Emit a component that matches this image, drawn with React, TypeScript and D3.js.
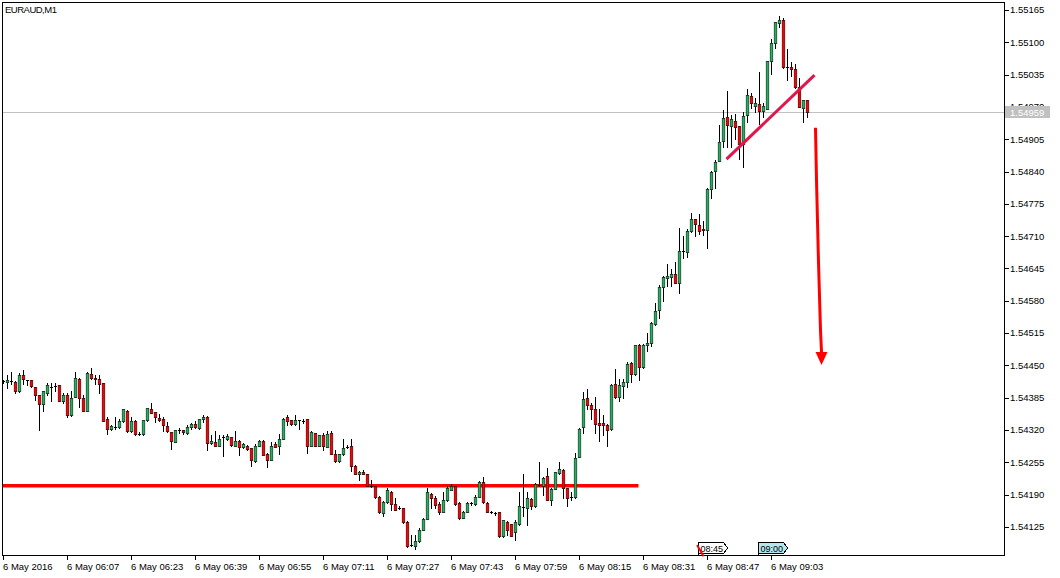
import React from "react";
import * as d3 from "d3";

const symbolTitle = "EURAUD,M1";

const opens = [
  1.54418,1.54416,1.54418,1.54416,1.54399,1.54430,1.54420,1.54420,1.54406,1.54390,
  1.54372,1.54395,1.54407,1.54408,1.54410,1.54378,1.54391,1.54351,1.54386,1.54423,
  1.54384,1.54359,1.54432,1.54424,1.54423,1.54414,1.54343,1.54322,1.54327,1.54326,
  1.54338,1.54359,1.54319,1.54339,1.54312,1.54312,1.54340,1.54363,1.54356,1.54344,
  1.54342,1.54328,1.54316,1.54296,1.54320,1.54320,1.54314,1.54326,1.54332,1.54324,
  1.54342,1.54347,1.54294,1.54296,1.54288,1.54306,1.54302,1.54306,1.54288,1.54299,
  1.54286,1.54288,1.54283,1.54258,1.54288,1.54299,1.54272,1.54260,1.54291,1.54288,
  1.54303,1.54346,1.54340,1.54332,1.54340,1.54339,1.54342,1.54288,1.54314,1.54288,
  1.54310,1.54286,1.54314,1.54272,1.54258,1.54271,1.54286,1.54287,1.54248,1.54232,
  1.54236,1.54231,1.54208,1.54207,1.54186,1.54154,1.54175,1.54196,1.54172,1.54163,
  1.54163,1.54136,1.54088,1.54086,1.54096,1.54119,1.54142,1.54192,1.54184,1.54171,
  1.54156,1.54179,1.54200,1.54207,1.54174,1.54144,1.54156,1.54174,1.54171,1.54186,
  1.54216,1.54174,1.54155,1.54154,1.54155,1.54106,1.54136,1.54131,1.54114,1.54131,
  1.54166,1.54163,1.54182,1.54167,1.54210,1.54208,1.54227,1.54179,1.54202,1.54234,
  1.54240,1.54203,1.54186,1.54186,1.54266,1.54326,1.54384,1.54370,1.54363,1.54335,
  1.54334,1.54331,1.54322,1.54412,1.54386,1.54408,1.54416,1.54455,1.54432,1.54492,
  1.54446,1.54492,1.54496,1.54534,1.54562,1.54608,1.54626,1.54628,1.54634,1.54616,
  1.54680,1.54678,1.54720,1.54744,1.54732,1.54724,1.54723,1.54804,1.54842,1.54862,
  1.54902,1.54950,1.54931,1.54942,1.54931,1.54895,1.54954,1.54992,1.54971,1.54976,
  1.54962,1.54966,1.55062,1.55098,1.55138,1.55144,1.55050,1.55050,1.55047,1.55010,
  1.54968,1.54983,
];

const highs = [
  1.54421,1.54430,1.54436,1.54419,1.54434,1.54440,1.54421,1.54421,1.54407,1.54391,
  1.54399,1.54415,1.54415,1.54414,1.54411,1.54395,1.54395,1.54399,1.54436,1.54424,
  1.54390,1.54436,1.54444,1.54431,1.54431,1.54415,1.54346,1.54330,1.54346,1.54342,
  1.54363,1.54361,1.54347,1.54340,1.54316,1.54341,1.54365,1.54374,1.54357,1.54352,
  1.54346,1.54336,1.54317,1.54321,1.54324,1.54321,1.54331,1.54334,1.54338,1.54343,
  1.54350,1.54348,1.54311,1.54318,1.54310,1.54310,1.54312,1.54307,1.54319,1.54300,
  1.54294,1.54290,1.54284,1.54291,1.54300,1.54300,1.54273,1.54296,1.54296,1.54312,
  1.54344,1.54350,1.54341,1.54351,1.54341,1.54343,1.54343,1.54319,1.54315,1.54311,
  1.54314,1.54319,1.54318,1.54280,1.54272,1.54303,1.54290,1.54302,1.54249,1.54238,
  1.54240,1.54232,1.54220,1.54208,1.54187,1.54177,1.54203,1.54197,1.54183,1.54167,
  1.54164,1.54137,1.54108,1.54108,1.54123,1.54143,1.54204,1.54193,1.54187,1.54175,
  1.54195,1.54208,1.54211,1.54208,1.54175,1.54157,1.54176,1.54176,1.54190,1.54217,
  1.54226,1.54175,1.54158,1.54156,1.54156,1.54140,1.54138,1.54132,1.54139,1.54195,
  1.54231,1.54195,1.54183,1.54213,1.54255,1.54226,1.54244,1.54203,1.54236,1.54255,
  1.54241,1.54204,1.54196,1.54274,1.54324,1.54396,1.54403,1.54374,1.54387,1.54362,
  1.54351,1.54332,1.54412,1.54443,1.54423,1.54423,1.54456,1.54456,1.54492,1.54493,
  1.54493,1.54516,1.54538,1.54576,1.54612,1.54630,1.54655,1.54643,1.54658,1.54727,
  1.54711,1.54724,1.54756,1.54745,1.54755,1.54740,1.54806,1.54841,1.54864,1.54934,
  1.54963,1.55002,1.54954,1.54955,1.54932,1.54959,1.55007,1.54999,1.54987,1.55040,
  1.54978,1.55063,1.55106,1.55141,1.55152,1.55148,1.55086,1.55060,1.55056,1.55028,
  1.54984,1.54984,
];

const lows = [
  1.54415,1.54404,1.54413,1.54395,1.54396,1.54412,1.54410,1.54407,1.54380,1.54320,
  1.54358,1.54390,1.54379,1.54399,1.54378,1.54375,1.54346,1.54348,1.54386,1.54366,
  1.54358,1.54358,1.54423,1.54412,1.54394,1.54338,1.54312,1.54321,1.54322,1.54324,
  1.54336,1.54317,1.54316,1.54311,1.54311,1.54311,1.54339,1.54354,1.54336,1.54338,
  1.54318,1.54316,1.54282,1.54295,1.54315,1.54312,1.54312,1.54322,1.54324,1.54323,
  1.54336,1.54279,1.54292,1.54287,1.54287,1.54267,1.54300,1.54288,1.54287,1.54270,
  1.54284,1.54280,1.54248,1.54256,1.54287,1.54269,1.54246,1.54259,1.54285,1.54272,
  1.54302,1.54330,1.54331,1.54331,1.54322,1.54335,1.54274,1.54287,1.54287,1.54287,
  1.54280,1.54285,1.54271,1.54256,1.54256,1.54270,1.54283,1.54238,1.54231,1.54219,
  1.54231,1.54207,1.54206,1.54183,1.54154,1.54148,1.54174,1.54160,1.54159,1.54162,
  1.54134,1.54085,1.54086,1.54080,1.54095,1.54118,1.54141,1.54164,1.54163,1.54151,
  1.54155,1.54178,1.54199,1.54170,1.54142,1.54143,1.54155,1.54170,1.54170,1.54185,
  1.54174,1.54155,1.54154,1.54150,1.54104,1.54105,1.54108,1.54106,1.54098,1.54130,
  1.54148,1.54130,1.54162,1.54166,1.54207,1.54190,1.54179,1.54170,1.54201,1.54232,
  1.54183,1.54168,1.54179,1.54184,1.54265,1.54314,1.54362,1.54343,1.54314,1.54298,
  1.54310,1.54288,1.54321,1.54385,1.54378,1.54384,1.54407,1.54416,1.54431,1.54420,
  1.54444,1.54480,1.54490,1.54531,1.54546,1.54579,1.54610,1.54610,1.54615,1.54596,
  1.54666,1.54668,1.54718,1.54710,1.54714,1.54712,1.54687,1.54786,1.54807,1.54861,
  1.54890,1.54890,1.54890,1.54906,1.54866,1.54850,1.54939,1.54968,1.54960,1.54935,
  1.54950,1.54965,1.55036,1.55088,1.55130,1.55049,1.55024,1.55032,1.55008,1.54969,
  1.54940,1.54950,
];

const closes = [
  1.54418,1.54420,1.54418,1.54399,1.54431,1.54422,1.54420,1.54408,1.54391,1.54372,
  1.54399,1.54410,1.54407,1.54408,1.54379,1.54391,1.54350,1.54384,1.54424,1.54384,
  1.54359,1.54435,1.54424,1.54422,1.54412,1.54339,1.54322,1.54328,1.54327,1.54339,
  1.54362,1.54319,1.54339,1.54312,1.54312,1.54340,1.54364,1.54355,1.54346,1.54340,
  1.54330,1.54318,1.54298,1.54320,1.54320,1.54316,1.54326,1.54332,1.54326,1.54342,
  1.54347,1.54294,1.54299,1.54288,1.54302,1.54306,1.54308,1.54290,1.54299,1.54286,
  1.54291,1.54282,1.54259,1.54288,1.54299,1.54270,1.54260,1.54288,1.54286,1.54303,
  1.54343,1.54338,1.54332,1.54340,1.54340,1.54339,1.54288,1.54316,1.54288,1.54310,
  1.54287,1.54312,1.54272,1.54258,1.54271,1.54283,1.54286,1.54248,1.54232,1.54236,
  1.54232,1.54208,1.54208,1.54186,1.54155,1.54175,1.54199,1.54172,1.54160,1.54163,
  1.54135,1.54086,1.54088,1.54096,1.54118,1.54142,1.54195,1.54184,1.54170,1.54156,
  1.54179,1.54203,1.54208,1.54172,1.54143,1.54156,1.54174,1.54174,1.54186,1.54216,
  1.54175,1.54156,1.54155,1.54154,1.54106,1.54139,1.54119,1.54107,1.54136,1.54167,
  1.54166,1.54183,1.54167,1.54212,1.54210,1.54224,1.54180,1.54202,1.54235,1.54242,
  1.54203,1.54184,1.54186,1.54264,1.54323,1.54383,1.54371,1.54363,1.54332,1.54330,
  1.54330,1.54320,1.54411,1.54386,1.54411,1.54416,1.54452,1.54432,1.54491,1.54447,
  1.54492,1.54496,1.54535,1.54560,1.54608,1.54628,1.54630,1.54634,1.54616,1.54680,
  1.54680,1.54720,1.54744,1.54734,1.54720,1.54722,1.54804,1.54840,1.54860,1.54899,
  1.54947,1.54934,1.54946,1.54930,1.54895,1.54951,1.54995,1.54978,1.54978,1.54962,
  1.54971,1.55062,1.55099,1.55140,1.55144,1.55050,1.55050,1.55046,1.55010,1.54970,
  1.54983,1.54959,
];

const priceTicks = [
  1.55165, 1.551, 1.55035, 1.5497, 1.54905, 1.5484, 1.54775, 1.5471, 1.54645,
  1.5458, 1.54515, 1.5445, 1.54385, 1.5432, 1.54255, 1.5419, 1.54125,
];

const timeLabels = [
  "6 May 2016", "6 May 06:07", "6 May 06:23", "6 May 06:39", "6 May 06:55",
  "6 May 07:11", "6 May 07:27", "6 May 07:43", "6 May 07:59", "6 May 08:15",
  "6 May 08:31", "6 May 08:47", "6 May 09:03",
];
const timeLabelBars = [0, 16, 32, 48, 64, 80, 96, 112, 128, 144, 160, 176, 192];

const currentPrice = 1.54959;

const supportLevel = 1.54208;
const supportEndBar = 158.75;

const trendBars = [180.75, 202.75];
const trendPrices = [1.54865, 1.55034];

const arrowBars = [203, 203.25, 203.75, 204.25, 204.5];
const arrowPrices = [1.54928, 1.54823, 1.54658, 1.54521, 1.54477];
const arrowTipBar = 204.5;
const arrowTipPrice = 1.54451;

const markerLabels = ["08:45", "09:00"];
const markerBars = [173.5, 188.5];
const markerFills = ["#ffffff", "#b4e6ee"];

const slashBars = [173.4, 175];
const slashPrices = [1.54089, 1.54066];

const BULL = "#22b35e";
const BEAR = "#ff0000";
const FONT = "'Liberation Sans', Arial, sans-serif";

export default function App() {
  const W = 1060;
  const H = 578;
  const plotLeft = 2.5;
  const plotTop = 2.5;
  const plotRight = 1004.5;
  const plotBottom = 555.5;

  const x = d3.scaleLinear().domain([0, 1]).range([3.5, 7.5]);
  const y = d3.scaleLinear().domain([1.54125, 1.55165]).range([527, 10]);
  const py = (p: number) => Math.round(y(p)) + 0.5;

  const candles = opens.map((o, i) => ({
    o,
    h: highs[i],
    l: lows[i],
    c: closes[i],
    i,
  }));

  const arrowLine = d3
    .line<number>()
    .x((_, k) => x(arrowBars[k]))
    .y((p) => y(p))(arrowPrices);

  const ax = x(arrowTipBar);
  const ay0 = y(arrowPrices[arrowPrices.length - 1]);
  const ayTip = y(arrowTipPrice);

  const curY = py(currentPrice);

  return (
    <svg
      width={W}
      height={H}
      style={{ position: "fixed", left: 0, top: 0, background: "#fff" }}
      fontFamily={FONT}
    >
      <rect x={0} y={0} width={W} height={H} fill="#fff" />
      <defs>
        <clipPath id="plot">
          <rect x={3} y={3} width={1001} height={552} />
        </clipPath>
      </defs>

      <g clipPath="url(#plot)">
        <line
          x1={plotLeft}
          x2={plotRight}
          y1={curY}
          y2={curY}
          stroke="#c0c0c0"
          strokeWidth={1}
          shapeRendering="crispEdges"
        />
        <line
          x1={plotLeft}
          x2={x(supportEndBar)}
          y1={y(supportLevel)}
          y2={y(supportLevel)}
          stroke="#ff0000"
          strokeWidth={3.5}
        />
        <g>
          {candles.map((d) => {
            const cx = x(d.i);
            const top = py(Math.max(d.o, d.c)) - 0.5;
            const bot = py(Math.min(d.o, d.c)) + 0.5;
            const bull = d.c > d.o;
            return (
              <g key={d.i}>
                <line
                  x1={cx}
                  x2={cx}
                  y1={py(d.h) - 0.5}
                  y2={py(d.l) + 0.5}
                  stroke="#000"
                  strokeWidth={1}
                  shapeRendering="crispEdges"
                />
                {bot - top <= 1.5 ? (
                  <line
                    x1={cx - 1.5}
                    x2={cx + 1.5}
                    y1={top + 0.5}
                    y2={top + 0.5}
                    stroke="#000"
                    strokeWidth={1}
                    shapeRendering="crispEdges"
                  />
                ) : (
                  <rect
                    x={cx - 1.35}
                    y={top + 0.25}
                    width={2.7}
                    height={bot - top - 0.5}
                    fill={bull ? BULL : BEAR}
                    stroke="#000"
                    strokeWidth={0.5}
                  />
                )}
              </g>
            );
          })}
        </g>
        <line
          x1={x(trendBars[0])}
          y1={y(trendPrices[0])}
          x2={x(trendBars[1])}
          y2={y(trendPrices[1])}
          stroke="#e0174a"
          strokeWidth={3}
        />
        <path d={arrowLine || ""} fill="none" stroke="#ff0000" strokeWidth={3} />
        <polygon
          points={`${ax - 6},${ay0} ${ax + 6},${ay0} ${ax},${ayTip}`}
          fill="#ff0000"
        />
      </g>

      <rect
        x={plotLeft}
        y={plotTop}
        width={plotRight - plotLeft}
        height={plotBottom - plotTop}
        fill="none"
        stroke="#000"
        strokeWidth={1}
        shapeRendering="crispEdges"
      />

      <text x={5} y={13} fontSize={9.5} letterSpacing={-0.5} fill="#000">
        {symbolTitle}
      </text>

      <g>
        {priceTicks.map((p) => (
          <g key={p}>
            <line
              x1={plotRight}
              x2={plotRight + 4}
              y1={py(p)}
              y2={py(p)}
              stroke="#000"
              shapeRendering="crispEdges"
            />
            <text x={1010} y={y(p)} dy="0.35em" fontSize={9.5} fill="#000">
              {p.toFixed(5)}
            </text>
          </g>
        ))}
        <rect x={1005} y={curY - 6.5} width={45} height={12} fill="#c0c0c0" />
        <text x={1010} y={curY} dy="0.35em" fontSize={9.5} fill="#fff">
          {currentPrice.toFixed(5)}
        </text>
      </g>

      <g>
        {timeLabels.map((t, k) => {
          const tx = x(timeLabelBars[k]);
          return (
            <g key={t}>
              <line
                x1={tx}
                x2={tx}
                y1={plotBottom}
                y2={plotBottom + 4}
                stroke="#000"
                shapeRendering="crispEdges"
              />
              <text x={tx - 0.5} y={570} fontSize={9.5} fill="#000">
                {t}
              </text>
            </g>
          );
        })}
      </g>

      {markerLabels.map((m, k) => {
        const mx = Math.round(x(markerBars[k])) + 0.5;
        return (
          <g key={m}>
            <path
              d={`M${mx},542.5 H${mx + 25} L${mx + 29},548 L${mx + 25},553.5 H${mx} Z`}
              fill={markerFills[k]}
              stroke="#000"
              strokeWidth={1}
              shapeRendering="crispEdges"
            />
            <line x1={mx} x2={mx} y1={542} y2={plotBottom} stroke="#000" shapeRendering="crispEdges" />
            <text x={mx + 2} y={551.5} fontSize={9} fill="#000">
              {m}
            </text>
          </g>
        );
      })}
      <line
        x1={x(slashBars[0])}
        y1={y(slashPrices[0])}
        x2={x(slashBars[1])}
        y2={y(slashPrices[1])}
        stroke="#ff0000"
        strokeWidth={2}
      />
    </svg>
  );
}
